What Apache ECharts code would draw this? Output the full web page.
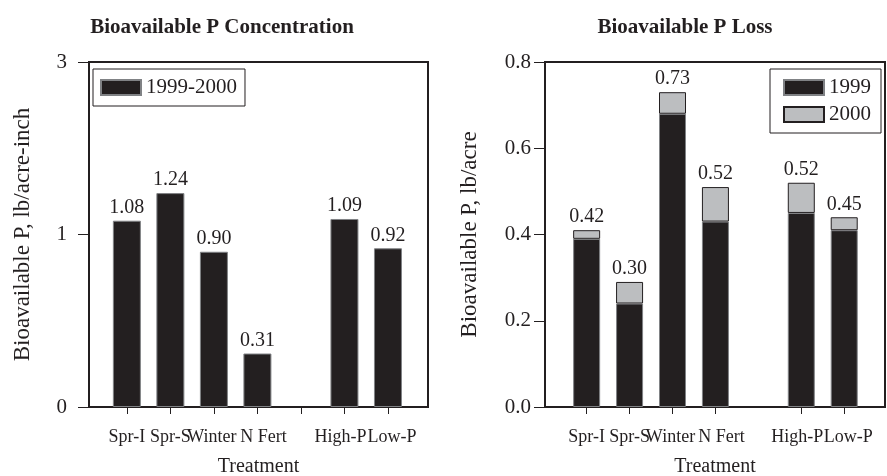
<!DOCTYPE html>
<html><head><meta charset="utf-8">
<script src="https://cdn.jsdelivr.net/npm/echarts@6/dist/echarts.min.js"></script>
<style>html,body{margin:0;padding:0;background:#fff}#c{width:887px;height:476px}</style>
</head><body><div id="c"></div>
<script>
const categories = ['Spr-I','Spr-S','Winter','N Fert','','High-P','Low-P'];
const concValues = [1.08,1.24,0.90,0.31,null,1.09,0.92];
const concLabels = ['1.08','1.24','0.90','0.31','','1.09','0.92'];
const loss1999 = [0.39,0.24,0.68,0.43,null,0.45,0.41];
const loss2000 = [0.02,0.05,0.05,0.08,null,0.07,0.03];
const lossLabels = ['0.42','0.30','0.73','0.52','','0.52','0.45'];
const concTickValues = [0,1,2];
const concTickLabels = ['0','1','3'];
const lossTickValues = [0,0.2,0.4,0.6,0.8];
const lossTickLabels = ['0.0','0.2','0.4','0.6','0.8'];

const FONT = 'Liberation Serif';
const INK = '#231f20';
// [value, categoryIndex] so the value dimension is stacked
const pairs = arr => arr.map((v,i)=>v==null?null:[v,i]).filter(d=>d);
const catIdx = categories.map((c,i)=>i);
const leftTicks = catIdx;
const rightTicks = catIdx.filter(i=>categories[i]!=='');
const labelIdx = catIdx.filter(i=>categories[i]!=='');
// small horizontal nudges (px) of the category labels, as in the original typesetting
const nudge = [0,0,-2,6,0,-4,4];
const rich = {};
nudge.forEach((s,i)=>{ rich['s'+i] = {fontFamily:FONT,fontSize:18,color:INK,
  padding: s>=0 ? [0,0,0,2*s] : [0,-2*s,0,0]}; });

function xAxis(gi,min,max,ticks){
  return {type:'value',gridIndex:gi,min:min,max:max,
    name:'Treatment',nameLocation:'middle',nameGap:50,
    nameTextStyle:{fontFamily:FONT,fontSize:20,color:INK},
    axisLine:{show:true,onZero:false,lineStyle:{color:INK,width:2}},
    axisTick:{show:true,customValues:ticks,length:7,lineStyle:{color:INK,width:1}},
    axisLabel:{customValues:labelIdx,hideOverlap:false,showMinLabel:true,showMaxLabel:true,
      formatter:v=>{const i=Math.round(v);return '{s'+i+'|'+categories[i]+'}';},
      rich:rich,fontFamily:FONT,fontSize:18,color:INK,margin:21},
    splitLine:{show:false}};
}
function yAxis(gi,max,interval,vals,labs,name,gap,margin){
  return {type:'value',gridIndex:gi,min:0,max:max,interval:interval,
    name:name,nameLocation:'middle',nameGap:gap,
    nameTextStyle:{fontFamily:FONT,fontSize:23,color:INK},
    axisLine:{show:true,onZero:false,lineStyle:{color:INK,width:2}},
    axisTick:{show:true,length:11,lineStyle:{color:INK,width:1}},
    axisLabel:{formatter:v=>{const k=vals.findIndex(t=>Math.abs(t-v)<1e-9);return k<0?'':labs[k];},
      fontFamily:FONT,fontSize:21,color:INK,margin:margin},
    splitLine:{show:false}};
}
const barLabel = labs => ({show:true,position:'top',distance:3,formatter:p=>labs[p.data[1]],fontFamily:FONT,fontSize:20,color:INK});
const enc = {x:1,y:0};
const chart = echarts.init(document.getElementById('c'));
chart.setOption({
  animation:false,
  backgroundColor:'#fff',
  title:[
    {text:'Bioavailable P Concentration',left:217,top:12,textAlign:'center',
     textStyle:{fontFamily:FONT,fontSize:21,fontWeight:'bold',color:INK}},
    {text:'Bioavailable P Loss',left:680,top:12,textAlign:'center',
     textStyle:{fontFamily:FONT,fontSize:21,fontWeight:'bold',color:INK}}
  ],
  legend:[
    {data:['1999-2000'],left:93,top:69,icon:'rect',itemWidth:40,itemHeight:15,itemGap:7,
     borderColor:INK,borderWidth:1,padding:[8,8,8,7],
     textStyle:{fontFamily:FONT,fontSize:21,color:INK},selectedMode:false},
    {data:['1999','2000'],left:770,top:69,orient:'vertical',icon:'rect',itemWidth:40,itemHeight:15,itemGap:6,
     borderColor:INK,borderWidth:1,padding:[8,10,8,13],
     textStyle:{fontFamily:FONT,fontSize:21,color:INK},selectedMode:false}
  ],
  grid:[
    {left:89,right:459,top:62,bottom:69,show:true,borderColor:INK,borderWidth:2,backgroundColor:'transparent',
     containLabel:false,outerBoundsMode:'none'},
    {left:545,right:2,top:62,bottom:69,show:true,borderColor:INK,borderWidth:2,backgroundColor:'transparent',
     containLabel:false,outerBoundsMode:'none'}
  ],
  xAxis:[xAxis(0,-0.87,6.92,leftTicks),xAxis(1,-0.97,6.95,rightTicks)],
  yAxis:[yAxis(0,2,1,concTickValues,concTickLabels,'Bioavailable P, lb/acre-inch',55,22),
         yAxis(1,0.8,0.2,lossTickValues,lossTickLabels,'Bioavailable P, lb/acre',64,14)],
  series:[
    {name:'1999-2000',type:'bar',xAxisIndex:0,yAxisIndex:0,barWidth:28,encode:enc,data:pairs(concValues),
     itemStyle:{color:INK,borderColor:'#808285',borderWidth:1},
     label:barLabel(concLabels)},
    {name:'1999',type:'bar',stack:'loss',xAxisIndex:1,yAxisIndex:1,barWidth:27,encode:enc,data:pairs(loss1999),
     itemStyle:{color:INK,borderColor:'#808285',borderWidth:1}},
    {name:'2000',type:'bar',stack:'loss',xAxisIndex:1,yAxisIndex:1,barWidth:27,encode:enc,data:pairs(loss2000),
     itemStyle:{color:'#bcbec0',borderColor:INK,borderWidth:1},
     label:barLabel(lossLabels)}
  ]
});
</script></body></html>
